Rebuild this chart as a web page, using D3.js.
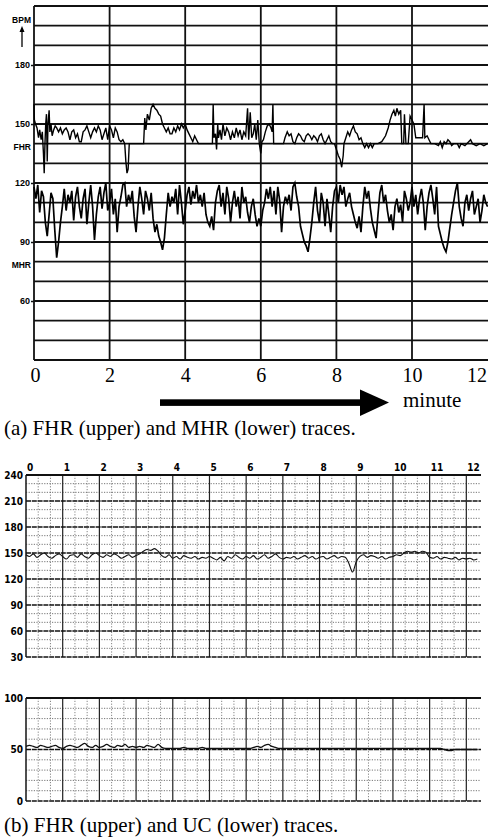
<!DOCTYPE html>
<html>
<head>
<meta charset="utf-8">
<script src="https://cdn.jsdelivr.net/npm/d3@7"></script>
<style>
  body { margin: 0; background: #fff; }
  svg { display: block; }
</style>
</head>
<body>
<div id="chart"></div>
<script>
// tick labels
var minuteTicksA = [0, 2, 4, 6, 8, 10, 12];
var minuteTicksB = [0, 1, 2, 3, 4, 5, 6, 7, 8, 9, 10, 11, 12];
var bpmTicksA = [180, 150, 120, 90, 60];
var bpmTicksB = [240, 210, 180, 150, 120, 90, 60, 30];
var ucTicks = [100, 50, 0];

// (a) FHR trace: [minute, bpm]
var fhrA = [
  [0.00, 160], [0.01, 152], [0.04, 150], [0.08, 148], [0.12, 143], [0.15, 147], [0.19, 142], [0.22, 146],
  [0.25, 135], [0.27, 125], [0.29, 140], [0.31, 150], [0.33, 155], [0.35, 131], [0.37, 150], [0.40, 157],
  [0.42, 146], [0.45, 150], [0.48, 144], [0.52, 147], [0.56, 149], [0.60, 148], [0.65, 146], [0.70, 148],
  [0.75, 145], [0.80, 147], [0.85, 148], [0.90, 146], [0.95, 142], [1.00, 146], [1.05, 147], [1.10, 143],
  [1.15, 145], [1.20, 141], [1.25, 141], [1.30, 146], [1.35, 147], [1.40, 149], [1.45, 146], [1.50, 143],
  [1.55, 146], [1.60, 148], [1.65, 146], [1.70, 149], [1.75, 147], [1.80, 142], [1.85, 145], [1.90, 148],
  [1.95, 142], [2.00, 149], [2.05, 147], [2.10, 143], [2.15, 148], [2.20, 146], [2.25, 142], [2.30, 141],
  [2.35, 142], [2.40, 140], [2.43, 131], [2.46, 125], [2.49, 127], [2.52, 140], [2.70, 140], [2.90, 140],
  [2.93, 153], [2.96, 147], [3.00, 155], [3.05, 152], [3.10, 158], [3.15, 160], [3.20, 158], [3.25, 157],
  [3.30, 155], [3.35, 154], [3.40, 150], [3.45, 148], [3.50, 146], [3.55, 148], [3.60, 145], [3.65, 145],
  [3.70, 148], [3.75, 146], [3.80, 149], [3.85, 147], [3.90, 150], [3.95, 148], [4.00, 150], [4.05, 147],
  [4.10, 145], [4.15, 143], [4.20, 141], [4.25, 144], [4.30, 142], [4.35, 140], [4.55, 140], [4.72, 140],
  [4.74, 160], [4.76, 143], [4.80, 145], [4.83, 137], [4.86, 150], [4.88, 143], [4.92, 147], [4.96, 142],
  [5.00, 150], [5.05, 144], [5.10, 148], [5.15, 146], [5.20, 142], [5.25, 146], [5.30, 143], [5.35, 148],
  [5.40, 144], [5.45, 147], [5.50, 142], [5.55, 146], [5.60, 144], [5.65, 158], [5.68, 142], [5.72, 156],
  [5.76, 143], [5.80, 145], [5.84, 150], [5.88, 142], [5.92, 152], [5.96, 140], [6.00, 135], [6.03, 141],
  [6.07, 142], [6.12, 146], [6.17, 149], [6.22, 150], [6.27, 148], [6.30, 146], [6.32, 160], [6.34, 140],
  [6.45, 140], [6.60, 140], [6.64, 143], [6.70, 146], [6.75, 144], [6.80, 145], [6.85, 141], [6.90, 140],
  [6.95, 143], [7.00, 145], [7.05, 144], [7.10, 142], [7.15, 141], [7.20, 144], [7.25, 145], [7.30, 144],
  [7.35, 142], [7.40, 144], [7.45, 143], [7.50, 141], [7.55, 144], [7.60, 145], [7.65, 142], [7.70, 140],
  [7.75, 142], [7.80, 144], [7.85, 141], [7.90, 140], [7.95, 140], [8.00, 137], [8.05, 134], [8.10, 132],
  [8.14, 128], [8.18, 134], [8.20, 140], [8.25, 143], [8.30, 146], [8.35, 144], [8.40, 147], [8.45, 149],
  [8.50, 146], [8.55, 145], [8.60, 142], [8.65, 143], [8.70, 140], [8.75, 138], [8.80, 140], [8.85, 138],
  [8.90, 140], [8.95, 138], [9.00, 140], [9.10, 140], [9.20, 141], [9.30, 144], [9.37, 148], [9.42, 152],
  [9.47, 155], [9.52, 157], [9.56, 154], [9.60, 158], [9.65, 155], [9.70, 157], [9.73, 140], [9.78, 140],
  [9.80, 155], [9.84, 140], [9.90, 140], [9.95, 154], [10.00, 152], [10.05, 150], [10.10, 143], [10.20, 143],
  [10.28, 143], [10.32, 160], [10.34, 143], [10.40, 144], [10.45, 142], [10.50, 140], [10.60, 140], [10.70, 139],
  [10.75, 141], [10.80, 138], [10.85, 141], [10.90, 140], [10.95, 142], [11.00, 141], [11.05, 139], [11.10, 140],
  [11.20, 140], [11.25, 138], [11.30, 140], [11.40, 139], [11.50, 141], [11.55, 142], [11.60, 140], [11.70, 139],
  [11.80, 140], [11.90, 139], [12.00, 140]
];

// (a) MHR trace: one value every 0.05 min
var mhrStep = 0.05;
var mhrA = [
  118, 112, 119, 105, 116, 113, 100, 93, 104, 115, 112, 96, 82, 90, 100, 108, 117, 106, 114, 110,
  116, 101, 113, 118, 108, 102, 112, 117, 99, 110, 119, 108, 91, 104, 113, 118, 107, 115, 120, 106,
  110, 117, 104, 112, 95, 108, 113, 119, 120, 108, 114, 110, 116, 103, 95, 108, 118, 112, 104, 116,
  112, 106, 115, 102, 95, 99, 93, 90, 86, 92, 104, 115, 108, 113, 110, 117, 104, 119, 110, 99,
  106, 114, 118, 109, 116, 112, 119, 110, 114, 108, 115, 104, 100, 98, 103, 96, 110, 116, 119, 108,
  115, 104, 118, 112, 100, 110, 116, 108, 113, 102, 118, 110, 113, 105, 100, 108, 112, 104, 98, 102,
  98, 106, 110, 117, 112, 118, 108, 116, 104, 118, 111, 95, 108, 113, 110, 114, 106, 118, 120, 113,
  108, 98, 94, 90, 88, 85, 92, 100, 110, 118, 106, 100, 115, 110, 98, 112, 104, 95, 108, 116,
  118, 110, 119, 114, 118, 108, 112, 115, 108, 104, 100, 97, 103, 95, 108, 118, 112, 116, 107, 100,
  96, 92, 104, 115, 119, 110, 114, 106, 100, 104, 96, 108, 112, 105, 109, 100, 116, 112, 106, 110,
  118, 108, 114, 104, 112, 117, 110, 96, 108, 115, 119, 112, 104, 118, 98, 94, 90, 87, 85, 90,
  97, 104, 110, 116, 120, 108, 102, 98, 110, 114, 106, 112, 116, 104, 108, 112, 100, 106, 114, 110,
  108
];

// (b) FHR trace: one value every 0.1 min
var stepB = 0.1;
var fhrB = [
  148, 146, 149, 145, 148, 150, 146, 144, 147, 149,
  146, 143, 147, 148, 145, 149, 146, 144, 148, 150,
  147, 145, 148, 146, 149, 147, 144, 146, 148, 145,
  147, 149, 152, 154, 153, 155, 152, 147, 145, 148,
  144, 146, 143, 147, 145, 144, 146, 143, 145, 144,
  146, 144, 142, 145, 141, 146, 144, 148, 145, 143,
  146, 144, 147, 143, 145, 148, 144, 146, 149, 145,
  143, 145, 144, 146, 143, 145, 147, 144, 146, 143,
  145, 146, 143, 145, 147, 144, 146, 145, 138, 128,
  140, 146, 148, 145, 147, 146, 144, 146, 143, 145,
  146, 148, 147, 150, 152, 151, 152, 150, 152, 151,
  145, 144, 146, 143, 145, 144, 143, 145, 142, 144,
  143, 144, 142, 143
];

// (b) UC trace: one value every 0.1 min
var ucB = [
  53, 54, 53, 52, 54, 53, 52, 53, 54, 52,
  51, 53, 54, 53, 52, 54, 56, 53, 52, 54,
  52, 53, 55, 53, 52, 54, 53, 55, 52, 53,
  52, 53, 52, 54, 53, 52, 55, 52, 51, 51,
  51, 51, 51, 52, 51, 51, 51, 51, 52, 51,
  51, 51, 51, 51, 51, 51, 51, 51, 51, 51,
  51, 51, 52, 53, 52, 54, 55, 53, 52, 51,
  51, 51, 51, 51, 51, 51, 51, 51, 51, 51,
  51, 51, 51, 51, 51, 51, 51, 51, 51, 51,
  51, 51, 51, 51, 51, 51, 51, 51, 51, 51,
  51, 51, 51, 51, 51, 51, 51, 51, 51, 51,
  51, 51, 51, 51, 50, 49, 49, 50, 50, 50,
  50, 50, 50, 50
];

var svgWidth = 488;
var svgHeight = 838;

var svg = d3.select("#chart")
  .append("svg")
  .attr("width", svgWidth)
  .attr("height", svgHeight);

var serif = "'Liberation Serif', 'Times New Roman', serif";
var narrow = "'Liberation Sans Narrow', 'DejaVu Sans Condensed', sans-serif";

// ---------- panel (a) ----------
var xA = d3.scaleLinear().domain([0, 12]).range([34, 487.6]);
var yA = d3.scaleLinear().domain([30, 210]).range([360, 6]);

var gA = svg.append("g");

// horizontal grid every 10 bpm
gA.selectAll(".hgridA")
  .data(d3.range(30, 211, 10))
  .enter()
  .append("line")
  .attr("x1", xA(0))
  .attr("x2", svgWidth)
  .attr("y1", d => yA(d))
  .attr("y2", d => yA(d))
  .attr("stroke", "#111")
  .attr("stroke-width", d => d % 30 === 0 ? 2 : 1.6);

// vertical grid every 2 minutes
gA.selectAll(".vgridA")
  .data(d3.range(0, 11, 2))
  .enter()
  .append("line")
  .attr("x1", d => xA(d))
  .attr("x2", d => xA(d))
  .attr("y1", yA(210))
  .attr("y2", yA(30))
  .attr("stroke", "#111")
  .attr("stroke-width", 1.8);

// traces
var lineA = d3.line()
  .x(d => xA(d[0]))
  .y(d => yA(d[1]));

gA.append("path")
  .datum(fhrA)
  .attr("d", lineA)
  .attr("fill", "none")
  .attr("stroke", "#000")
  .attr("stroke-width", 1.4);

gA.append("path")
  .datum(mhrA.map((v, i) => [i * mhrStep, v]))
  .attr("d", lineA)
  .attr("fill", "none")
  .attr("stroke", "#000")
  .attr("stroke-width", 1.7);

// y axis labels
var leftAxisA = d3.axisLeft(yA).tickValues(bpmTicksA).tickSize(3).tickPadding(1);
var yAxisA = gA.append("g")
  .attr("transform", `translate(${xA(0)}, 0)`)
  .call(leftAxisA);
yAxisA.select(".domain").remove();
yAxisA.selectAll("line").attr("stroke", "#111").attr("stroke-width", 1.5);
yAxisA.selectAll("text")
  .style("font-family", "Arial, 'Liberation Sans', sans-serif")
  .style("font-weight", "bold")
  .style("font-size", "9px")
  .attr("fill", "#000");

var sideLabels = [["BPM", 20], ["FHR", yA(140) + 3], ["MHR", yA(80) + 3]];
gA.selectAll(".sideLabel")
  .data(sideLabels)
  .enter()
  .append("text")
  .attr("x", 31)
  .attr("y", d => d[1])
  .attr("dy", "0.35em")
  .attr("text-anchor", "end")
  .style("font-family", "Arial, 'Liberation Sans', sans-serif")
  .style("font-weight", "bold")
  .style("font-size", "8.5px")
  .text(d => d[0]);

// small arrow under BPM
gA.append("line")
  .attr("x1", 22).attr("x2", 22)
  .attr("y1", 29).attr("y2", 47)
  .attr("stroke", "#000")
  .attr("stroke-width", 1.3);
gA.append("path")
  .attr("d", "M22,26 L19.5,32 L24.5,32 Z")
  .attr("fill", "#000");

// x axis labels
var bottomAxisA = d3.axisBottom(xA).tickValues(minuteTicksA).tickSize(0).tickPadding(8);
var xAxisA = gA.append("g")
  .attr("transform", `translate(0, ${yA(30)})`)
  .call(bottomAxisA);
xAxisA.select(".domain").remove();
xAxisA.selectAll("text")
  .style("font-family", serif)
  .style("font-size", "20px")
  .attr("fill", "#000");
xAxisA.selectAll(".tick")
  .filter(d => d === 12)
  .select("text")
  .attr("text-anchor", "end")
  .attr("x", -1);
xAxisA.selectAll(".tick")
  .filter(d => d === 0)
  .select("text")
  .attr("x", 1);

// big arrow
gA.append("rect")
  .attr("x", 160).attr("y", 399.3)
  .attr("width", 202).attr("height", 6.6)
  .attr("fill", "#000");
gA.append("path")
  .attr("d", "M360,389.5 L389,402.6 L360,416 Z")
  .attr("fill", "#000");
gA.append("text")
  .attr("x", 403)
  .attr("y", 406.5)
  .style("font-family", serif)
  .style("font-size", "21px")
  .text("minute");

gA.append("text")
  .attr("x", 4)
  .attr("y", 434.5)
  .style("font-family", serif)
  .style("font-size", "21px")
  .text("(a) FHR (upper) and MHR (lower) traces.");

// ---------- panel (b) ----------
var xB = d3.scaleLinear().domain([0, 12.4]).range([26, 481]);
var yB = d3.scaleLinear().domain([30, 240]).range([657, 475]);
var yU = d3.scaleLinear().domain([0, 100]).range([801, 698]);

var gB = svg.append("g");

function drawPaperGrid(g, yScale, lo, hi, minorStep, majorStep) {
  // minor dotted horizontals
  g.selectAll(null)
    .data(d3.range(lo, hi + 1, minorStep).filter(d => (d - lo) % majorStep !== 0))
    .enter()
    .append("line")
    .attr("x1", xB(0)).attr("x2", xB(12.4))
    .attr("y1", d => yScale(d)).attr("y2", d => yScale(d))
    .attr("stroke", "#666")
    .attr("stroke-width", 0.9)
    .attr("stroke-dasharray", "1.2,1.4");
  // minor dotted verticals every 20 s
  g.selectAll(null)
    .data(d3.range(0, 37).map(d => d / 3).filter((d, i) => i % 3 !== 0))
    .enter()
    .append("line")
    .attr("x1", d => xB(d)).attr("x2", d => xB(d))
    .attr("y1", yScale(hi)).attr("y2", yScale(lo))
    .attr("stroke", "#666")
    .attr("stroke-width", 0.8)
    .attr("stroke-dasharray", "1.2,1.6");
  // major verticals every minute
  g.selectAll(null)
    .data(minuteTicksB)
    .enter()
    .append("line")
    .attr("x1", d => xB(d)).attr("x2", d => xB(d))
    .attr("y1", yScale(hi)).attr("y2", yScale(lo))
    .attr("stroke", "#222")
    .attr("stroke-width", d => d === 0 ? 1.6 : 1.2);
  // major horizontals
  g.selectAll(null)
    .data(d3.range(lo, hi + 1, majorStep))
    .enter()
    .append("line")
    .attr("x1", xB(0)).attr("x2", xB(12.4))
    .attr("y1", d => yScale(d)).attr("y2", d => yScale(d))
    .attr("stroke", "#111")
    .attr("stroke-width", d => d === hi ? 2.2 : 1.7)
    .attr("stroke-dasharray", d => d === hi ? null : "5,0.8");
}

drawPaperGrid(gB, yB, 30, 240, 10, 30);
drawPaperGrid(gB, yU, 0, 100, 10, 50);

var lineFhrB = d3.line()
  .x((d, i) => xB(i * stepB))
  .y(d => yB(d))
  .curve(d3.curveMonotoneX);
gB.append("path")
  .datum(fhrB)
  .attr("d", lineFhrB)
  .attr("fill", "none")
  .attr("stroke", "#111")
  .attr("stroke-width", 1.1);

var lineUc = d3.line()
  .x((d, i) => xB(i * stepB))
  .y(d => yU(d))
  .curve(d3.curveMonotoneX);
gB.append("path")
  .datum(ucB)
  .attr("d", lineUc)
  .attr("fill", "none")
  .attr("stroke", "#111")
  .attr("stroke-width", 1.3);

// y labels (b)
gB.selectAll(".bpmB")
  .data(bpmTicksB)
  .enter()
  .append("text")
  .attr("x", 23)
  .attr("y", d => yB(d))
  .attr("dy", "0.35em")
  .attr("text-anchor", "end")
  .style("font-family", narrow)
  .style("font-weight", "bold")
  .style("font-size", "10px")
  .text(d => d);

gB.selectAll(".ucLabel")
  .data(ucTicks)
  .enter()
  .append("text")
  .attr("x", 23)
  .attr("y", d => yU(d))
  .attr("dy", "0.35em")
  .attr("text-anchor", "end")
  .style("font-family", narrow)
  .style("font-weight", "bold")
  .style("font-size", "10px")
  .text(d => d);

// minute labels along the top
gB.selectAll(".minB")
  .data(minuteTicksB)
  .enter()
  .append("text")
  .attr("x", d => xB(d) + 1)
  .attr("y", 471)
  .style("font-family", narrow)
  .style("font-weight", "bold")
  .style("font-size", "10px")
  .text(d => d);

gB.append("text")
  .attr("x", 4)
  .attr("y", 831.5)
  .style("font-family", serif)
  .style("font-size", "21px")
  .text("(b) FHR (upper) and UC (lower) traces.");
</script>
</body>
</html>
